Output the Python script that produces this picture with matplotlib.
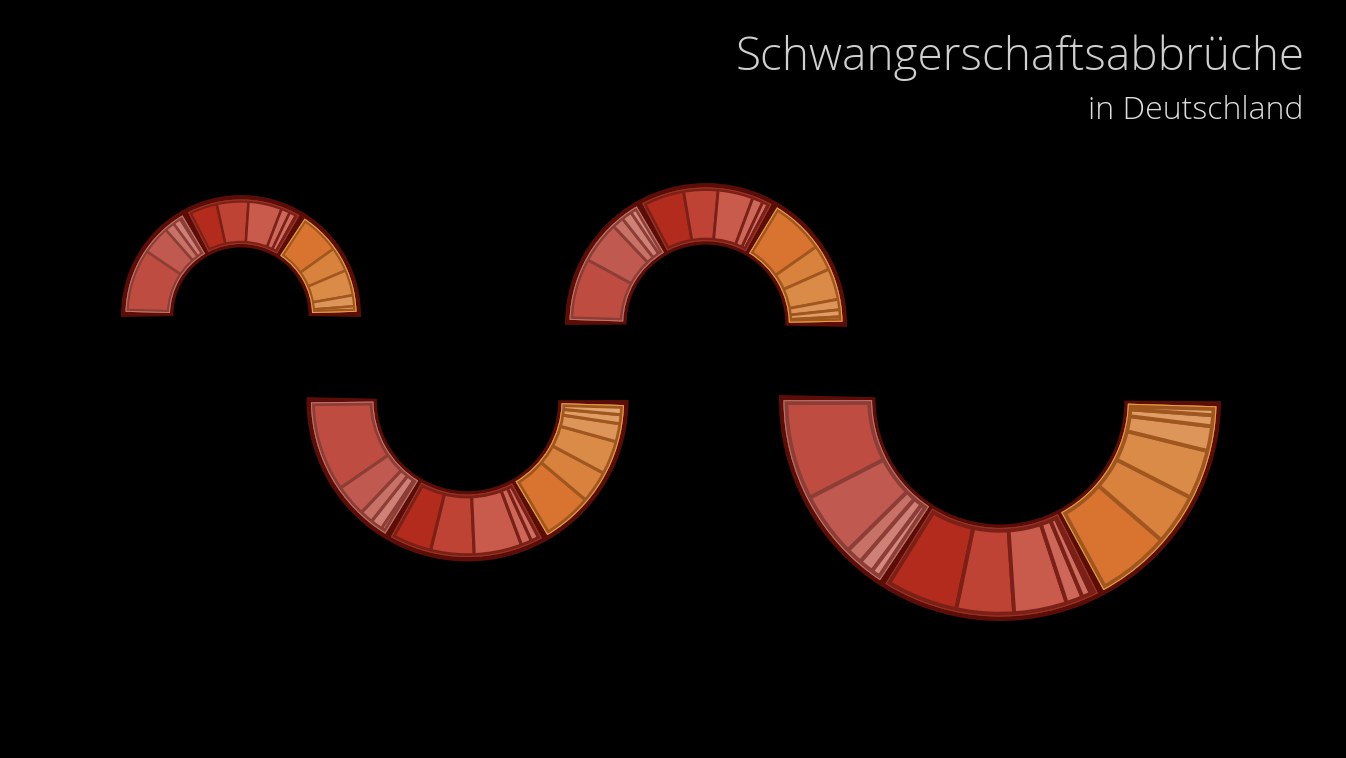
import matplotlib
matplotlib.use('Agg')
import matplotlib.pyplot as plt
from matplotlib.patches import Wedge
import numpy as np

# ---------------- data (angular shares of each half ring) -------------
arc1_group1 = [34.0, 14.5, 5.0, 4.0, 3.5]
arc1_group2 = [16.5, 16.1, 17.1, 4.5, 3.4, 3.0]
arc1_group3 = [22.5, 12.5, 13.0, 5.6, 2.0, 2.4]

arc2_group1 = [28.1, 18.1, 5.0, 4.5, 4.7]
arc2_group2 = [19.6, 14.8, 15.2, 4.6, 2.5, 2.5]
arc2_group3 = [25.0, 11.0, 13.4, 4.5, 3.0, 3.5]

arc3_group1 = [35.1, 12.0, 5.0, 4.5, 3.4]
arc3_group2 = [16.7, 16.3, 18.0, 4.0, 3.0, 2.0]
arc3_group3 = [20.4, 12.0, 12.6, 6.8, 3.4, 4.8]

arc4_group1 = [28.0, 17.5, 4.5, 4.0, 4.0]
arc4_group2 = [21.0, 15.6, 14.4, 4.5, 2.5, 2.5]
arc4_group3 = [21.3, 13.9, 13.3, 6.7, 3.0, 3.3]

title = "Schwangerschaftsabbrüche"
subtitle = "in Deutschland"

# ---------------- styling / layout ----------------
group_fill = [
    ['#bf4c41', '#c05a50', '#c87267', '#d08177', '#d5897f', '#d88d85'],
    ['#b32b1d', '#be4334', '#c95b4d', '#cc675a', '#d06e62', '#d47569'],
    ['#d87430', '#d8823e', '#db8b48', '#de955a', '#e09e66', '#e2a670'],
]
group_band = ['#8b3d36', '#7a2016', '#a0561f']
group_hi = ['#c47468', '#9c3426', '#eea042']
outline = '#5a0e07'

# layout: (center x, center y in pixels from top, outer radius, opens up?, tilt deg)
arcs = [
    dict(groups=[arc1_group1, arc1_group2, arc1_group3], cx=241, cy=315, R=120, up=True, tilt=0.0),
    dict(groups=[arc2_group1, arc2_group2, arc2_group3], cx=706, cy=324, R=141, up=True, tilt=0.4),
    dict(groups=[arc3_group1, arc3_group2, arc3_group3], cx=467.5, cy=400.5, R=161, up=False, tilt=0.5),
    dict(groups=[arc4_group1, arc4_group2, arc4_group3], cx=1000, cy=400, R=221, up=False, tilt=0.8),
]
ratio = 0.563
PX = 72.0 / 100.0  # points per pixel

W, H = 1346, 758
fig = plt.figure(figsize=(W / 100, H / 100), dpi=100, facecolor='black')
ax = fig.add_axes([0, 0, 1, 1])
ax.set_facecolor('black')
ax.set_xlim(0, W)
ax.set_ylim(H, 0)
ax.set_aspect('equal')
ax.axis('off')


def span(arc, c0, c1, total):
    a0 = 180.0 * c0 / total
    a1 = 180.0 * c1 / total
    if arc['up']:
        return 180 + arc['tilt'] + a0, 180 + arc['tilt'] + a1
    return 180 + arc['tilt'] - a1, 180 + arc['tilt'] - a0


for arc in arcs:
    R = arc['R']
    r = R * ratio
    c = (arc['cx'], arc['cy'])
    rm = (R + r) / 2
    total = sum(sum(g) for g in arc['groups'])
    # dark outline of the whole ring
    ext = np.degrees(1.5 / rm)
    t0, t1 = span(arc, 0, total, total)
    ax.add_patch(Wedge(c, R, t0 - ext, t1 + ext, width=R - r, facecolor=outline,
                       edgecolor='none', zorder=1))
    ro = R - 4.5
    ri = r + 3.5
    bw = 0.016 * R + 1.2
    dg = np.degrees(2.6 / rm)
    sep_lw = (0.010 * R + 0.6)
    cum = 0.0
    for gi, g in enumerate(arc['groups']):
        gsum = sum(g)
        g0, g1 = span(arc, cum, cum + gsum, total)
        gpatch = Wedge(c, ro, g0 + dg, g1 - dg, width=ro - ri, facecolor=group_band[gi],
                       edgecolor='none', zorder=2)
        ax.add_patch(gpatch)
        sub_c = cum
        for si, v in enumerate(g):
            s0, s1 = span(arc, sub_c, sub_c + v, total)
            w = Wedge(c, ro, s0, s1, width=ro - ri,
                      facecolor=group_fill[gi][si % len(group_fill[gi])],
                      edgecolor=group_band[gi], lw=sep_lw, zorder=3)
            ax.add_patch(w)
            w.set_clip_path(gpatch)
            sub_c += v
        band = Wedge(c, ro, g0 + dg, g1 - dg, width=ro - ri, facecolor='none',
                     edgecolor=group_band[gi], lw=2 * bw * PX, joinstyle='miter', zorder=4)
        ax.add_patch(band)
        band.set_clip_path(gpatch)
        hi = Wedge(c, ro, g0 + dg, g1 - dg, width=ro - ri, facecolor='none',
                   edgecolor=group_hi[gi], lw=2.0 * PX, joinstyle='miter', zorder=5)
        ax.add_patch(hi)
        hi.set_clip_path(gpatch)
        cum += gsum

ax.text(1304, 70, title, ha='right', va='baseline', color='#cfcfcf', fontsize=33,
        family=['Open Sans', 'DejaVu Sans'], fontweight='light')
ax.text(1304, 119, subtitle, ha='right', va='baseline', color='#dedede', fontsize=23,
        family=['Open Sans', 'DejaVu Sans'], fontweight='light')

fig.savefig('out.png', dpi=100, facecolor='black')
